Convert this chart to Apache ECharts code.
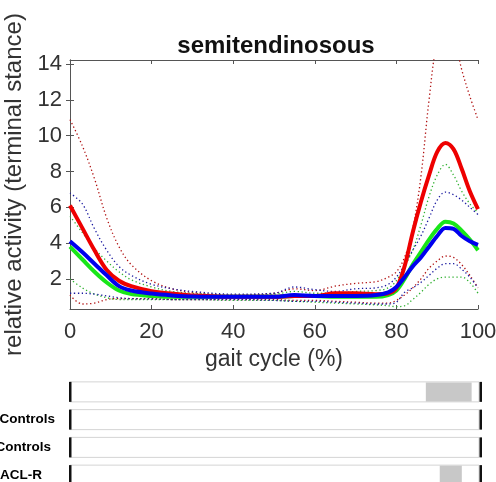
<!DOCTYPE html>
<html>
<head>
<meta charset="utf-8">
<script src="https://cdn.jsdelivr.net/npm/echarts@6/dist/echarts.min.js"></script>
<style>html,body{margin:0;padding:0;background:#fff;}#c{width:496px;height:482px;}</style>
</head>
<body>
<div id="c"></div>
<script>
// gait cycle (%) sample positions
const xs = [0, 3, 6, 9, 12, 15, 20, 25, 30, 40, 50, 55, 60, 65, 70, 75, 78, 80, 82, 84, 86, 88, 90, 92, 94, 96, 98, 100];

// means
const redMean   = [6.1, 4.85, 3.6, 2.5, 1.9, 1.6, 1.32, 1.18, 1.08, 1.0, 1.0, 1.05, 1.05, 1.2, 1.2, 1.15, 1.2, 1.5, 2.7, 4.6, 6.3, 7.8, 9.1, 9.6, 9.25, 8.15, 6.9, 5.9];
const greenMean = [3.8, 3.1, 2.4, 1.8, 1.35, 1.15, 1.05, 1.0, 1.0, 1.0, 1.0, 1.05, 1.05, 1.0, 1.0, 1.0, 1.1, 1.35, 2.0, 2.8, 3.5, 4.2, 4.8, 5.2, 5.1, 4.7, 4.2, 3.6];
const blueMean  = [4.1, 3.5, 2.85, 2.2, 1.6, 1.35, 1.18, 1.08, 1.02, 1.0, 1.0, 1.1, 1.05, 1.05, 1.05, 1.1, 1.25, 1.55, 2.1, 2.7, 3.2, 3.8, 4.4, 4.85, 4.8, 4.4, 4.1, 3.9];

// variability bands (dotted)
const redUpper   = [10.9, 9.45, 7.6, 5.4, 3.8, 2.8, 1.9, 1.45, 1.25, 1.1, 1.2, 1.45, 1.35, 1.6, 1.75, 1.85, 2.1, 2.4, 3.2, 4.8, 7.7, 12.0, 15.3, 16.2, 15.6, 13.7, 12.2, 10.9];
const redLower   = [1.1, 0.6, 0.65, 0.85, 0.9, 0.9, 0.9, 0.85, 0.85, 0.85, 0.85, 0.8, 0.8, 0.75, 0.7, 0.65, 0.65, 0.8, 1.1, 1.5, 2.0, 2.6, 3.0, 3.28, 3.2, 2.8, 2.2, 1.5];
const greenUpper = [5.5, 4.6, 3.7, 3.0, 2.4, 1.95, 1.55, 1.3, 1.2, 1.1, 1.15, 1.3, 1.2, 1.2, 1.3, 1.35, 1.5, 1.9, 2.7, 3.6, 5.0, 6.6, 7.8, 8.4, 7.8, 6.9, 6.2, 5.7];
const greenLower = [2.0, 1.5, 1.15, 0.95, 0.85, 0.85, 0.85, 0.85, 0.85, 0.8, 0.8, 0.75, 0.7, 0.65, 0.6, 0.55, 0.5, 0.45, 0.5, 0.85, 1.25, 1.7, 2.0, 2.1, 2.1, 2.1, 1.8, 1.2];
const blueUpper  = [6.8, 6.2, 4.8, 3.6, 2.7, 2.2, 1.7, 1.45, 1.3, 1.15, 1.2, 1.55, 1.4, 1.3, 1.45, 1.5, 1.7, 2.1, 2.8, 3.6, 4.4, 5.4, 6.4, 6.85, 6.7, 6.4, 6.0, 5.6];
const blueLower  = [1.2, 1.2, 1.15, 1.05, 0.95, 0.9, 0.88, 0.85, 0.85, 0.85, 0.8, 0.75, 0.75, 0.7, 0.65, 0.6, 0.6, 0.7, 1.25, 1.5, 1.8, 2.2, 2.6, 2.85, 2.85, 2.55, 2.1, 1.5];

// axis ticks
const xTicks = [0, 20, 40, 60, 80, 100];
const yTicks = [2, 4, 6, 8, 10, 12, 14];

// significance rows (bottom panel)
const rowLabels = ['', 'Controls', 'Controls', 'ACL-R'];
const sigStart  = [87, null, null, 90.4];
const sigEnd    = [98.2, null, null, 95.8];

const FONT = "'Liberation Sans', Arial, sans-serif";
const pts = a => xs.map((x, i) => [x, a[i]]);

function dotted(name, arr, color) {
  return { name, type: 'line', xAxisIndex: 0, yAxisIndex: 0, data: pts(arr), smooth: 0.35, symbol: 'none',
    lineStyle: { color, width: 1.3, type: [1.3, 2.6] }, z: 2, silent: true };
}
function solid(name, arr, color) {
  return { name, type: 'line', xAxisIndex: 0, yAxisIndex: 0, data: pts(arr), smooth: 0.35, symbol: 'none',
    lineStyle: { color, width: 4 }, z: 3, silent: true };
}

const rowData = rowLabels.map((l, i) => [i, sigStart[i], sigEnd[i]]);

const chart = echarts.init(document.getElementById('c'), null, { renderer: 'canvas' });
chart.setOption({
  animation: false,
  backgroundColor: '#fff',
  title: { text: 'semitendinosous', left: 271, textAlign: 'center', top: 29,
    textStyle: { fontFamily: FONT, fontSize: 24, fontWeight: 'bold', color: '#111' } },
  grid: [
    { left: 70, right: 18, top: 60, bottom: 173, outerBoundsMode: 'none', containLabel: false },
    { left: 70, right: 17, top: 378, height: 111, outerBoundsMode: 'none', containLabel: false }
  ],
  xAxis: [
    { type: 'value', gridIndex: 0, min: 0, max: 100, interval: 20, position: 'bottom',
      name: 'gait cycle (%)', nameLocation: 'middle', nameGap: 35,
      nameTextStyle: { fontFamily: FONT, fontSize: 23, color: '#333' },
      axisLine: { show: true, lineStyle: { color: '#555', width: 1 } },
      axisTick: { show: true, inside: true, length: 4, lineStyle: { color: '#555' } },
      axisLabel: { fontFamily: FONT, fontSize: 22, color: '#333', margin: 12,
        customValues: xTicks },
      splitLine: { show: false } },
    { type: 'value', gridIndex: 0, min: 0, max: 100, interval: 20, position: 'top',
      axisLine: { show: true, lineStyle: { color: '#555', width: 1 } },
      axisTick: { show: true, inside: true, length: 4, lineStyle: { color: '#555' } },
      axisLabel: { show: false }, splitLine: { show: false } },
    { type: 'value', gridIndex: 1, min: 0, max: 100, show: false }
  ],
  yAxis: [
    { type: 'value', gridIndex: 0, min: 0.32, max: 14.23, position: 'left',
      name: 'relative activity (terminal stance)', nameLocation: 'middle', nameGap: 40,
      nameTextStyle: { fontFamily: FONT, fontSize: 24, color: '#333' },
      axisLine: { show: true, lineStyle: { color: '#555', width: 1 } },
      axisTick: { show: true, inside: true, length: 4, lineStyle: { color: '#555' }, customValues: yTicks },
      axisLabel: { fontFamily: FONT, fontSize: 22, color: '#333', margin: 8, customValues: yTicks },
      splitLine: { show: false } },
    { type: 'value', gridIndex: 0, min: 0.32, max: 14.23, position: 'right',
      axisLine: { show: true, lineStyle: { color: '#555', width: 1 } },
      axisTick: { show: true, inside: true, length: 4, lineStyle: { color: '#555' }, customValues: yTicks },
      axisLabel: { show: false }, splitLine: { show: false } },
    { type: 'category', gridIndex: 1, data: rowLabels, inverse: true,
      axisLine: { show: false }, axisTick: { show: false },
      axisLabel: { margin: 15, formatter: (v, idx) => v ? `{r${idx}|${v}}` : '',
        rich: {
          r1: { fontFamily: FONT, fontSize: 13.5, fontWeight: 'bold', color: '#000', padding: [0, 0, 0, 0] },
          r2: { fontFamily: FONT, fontSize: 13.5, fontWeight: 'bold', color: '#000', padding: [0, 4, 0, 0] },
          r3: { fontFamily: FONT, fontSize: 13.5, fontWeight: 'bold', color: '#000', padding: [0, 13, 0, 0] }
        } },
      splitLine: { show: false } }
  ],
  series: [
    dotted('red upper', redUpper, '#b01010'),
    dotted('red lower', redLower, '#b01010'),
    dotted('green upper', greenUpper, '#30b030'),
    dotted('green lower', greenLower, '#30b030'),
    dotted('blue upper', blueUpper, '#1a1aa0'),
    dotted('blue lower', blueLower, '#1a1aa0'),
    solid('green mean', greenMean, '#19e619'),
    solid('red mean', redMean, '#ee0000'),
    solid('blue mean', blueMean, '#0000ee'),
    {
      type: 'custom', xAxisIndex: 2, yAxisIndex: 2, data: rowData, silent: true,
      renderItem: (params, api) => {
        const row = api.value(0);
        const c0 = api.coord([0, row]);
        const c1 = api.coord([100, row]);
        const h = 20;
        const y0 = c0[1] - h / 2;
        const children = [
          { type: 'rect', shape: { x: c0[0], y: y0, width: c1[0] - c0[0], height: h },
            style: { fill: '#fff', stroke: '#d4d4d4', lineWidth: 1 } }
        ];
        const s = api.value(1), e = api.value(2);
        if (s != null && !isNaN(s)) {
          const a = api.coord([s, row]), b = api.coord([e, row]);
          children.push({ type: 'rect', shape: { x: a[0], y: y0 + 0.5, width: b[0] - a[0], height: h - 1 },
            style: { fill: '#c8c8c8' } });
        }
        children.push({ type: 'rect', shape: { x: c0[0] - 1, y: y0, width: 2.5, height: h }, style: { fill: '#111' } });
        children.push({ type: 'rect', shape: { x: c1[0] + 0.5, y: y0, width: 2.5, height: h }, style: { fill: '#111' } });
        return { type: 'group', children };
      }
    }
  ]
});
</script>
</body>
</html>
